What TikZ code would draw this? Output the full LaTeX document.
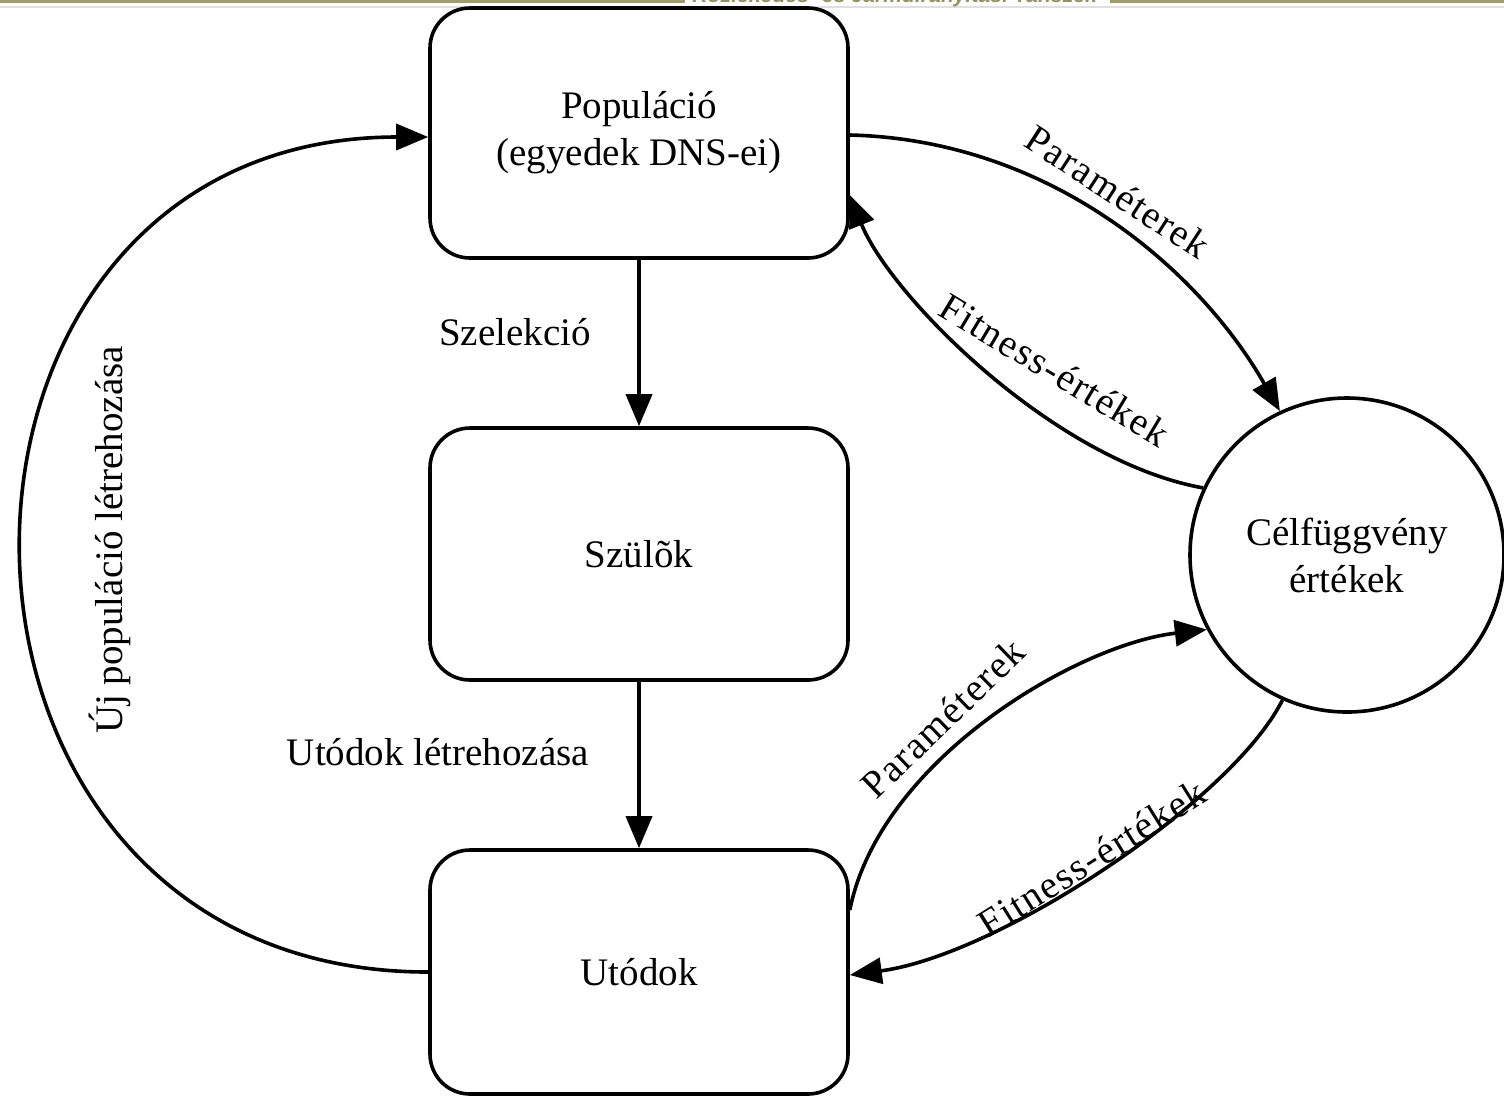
\documentclass[tikz,border=0pt]{standalone}
\usepackage{fontspec}
\setmainfont{Liberation Serif}
\newfontfamily\hdrfont{Liberation Sans}
\usetikzlibrary{arrows.meta,calc}
\definecolor{olive}{RGB}{160,157,108}
\definecolor{hdrtext}{RGB}{150,146,96}
\begin{document}
\begin{tikzpicture}[x=0.5pt,y=-0.5pt,
  box/.style={draw,line width=1.8pt,rounded corners=20pt,minimum width=209pt,inner sep=0pt,align=center,font=\fontsize{19.5}{23.5}\selectfont},
  roundnode/.style={draw,circle,line width=1.8pt,minimum size=157pt,inner sep=0pt,align=center,font=\fontsize{19.5}{23.5}\selectfont},
  conn/.style={line width=1.8pt,-{Triangle[length=16pt,width=13pt]}},
  lbl/.style={inner sep=0pt,font=\fontsize{19.5}{23.5}\selectfont},
  clbl/.style={inner sep=0pt,font=\addfontfeature{LetterSpace=4}\fontsize{19.5}{23.5}\selectfont}]
\useasboundingbox (0,0) rectangle (1504,1100);
% header
\fill[olive] (0,0) rectangle (685,3);
\fill[olive] (1110,0) rectangle (1504,3);
\fill[black!12] (0,5.5) rectangle (1504,7.5);
\node[anchor=base west,inner sep=0pt,text=hdrtext,font=\hdrfont\bfseries\itshape\fontsize{10.6}{12}\selectfont] (hdr) at (692,2.5) {Közlekedés- és Járműirányítási Tanszék};
% nodes
\node[box,minimum height=125pt] (pop) at (639,133) {Populáció\\(egyedek DNS-ei)};
\node[box,minimum height=126pt] (szu) at (639,554) {Szülõk};
\node[box,minimum height=122pt] (uto) at (639,972) {Utódok};
\node[roundnode] (cel) at (1347,555) {Célfüggvény\\értékek};
% straight connectors
\draw[conn] (pop.south) -- (szu.north);
\draw[conn] (szu.south) -- (uto.north);
% left loop
\draw[conn] (uto.west) .. controls +(-540,0) and +(-540,0) .. ($(pop.west)+(0,4)$);
% right curves
\draw[conn] ($(pop.east)+(0,2)$) .. controls +(202,5) and +(-80,-140) .. (cel.115);
\draw[conn] (cel.155) .. controls +(-150,-27) and +(40,100) .. ($(pop.east)+(0,62)$);
\draw[conn] ($(uto.east)+(0,-62)$) .. controls +(30,-150) and +(-130,15) .. (cel.208);
\draw[conn] (cel.246) .. controls +(-50,100) and +(150,-20) .. ($(uto.east)+(0,3)$);
% labels
\node[lbl] (l1) at (515,332) {Szelekció};
\node[lbl] (l2) at (438,752) {Utódok létrehozása};
\node[lbl,rotate=90] (l3) at (110,540) {Új populáció létrehozása};
\node[clbl,rotate=-33] (l4) at (1118,192) {Paraméterek};
\node[clbl,rotate=-31] (l5) at (1055,370) {Fitness-értékek};
\node[clbl,rotate=44] (l6) at (943,718) {Paraméterek};
\node[clbl,rotate=32] (l7) at (1092,858) {Fitness-értékek};
\end{tikzpicture}
\end{document}
